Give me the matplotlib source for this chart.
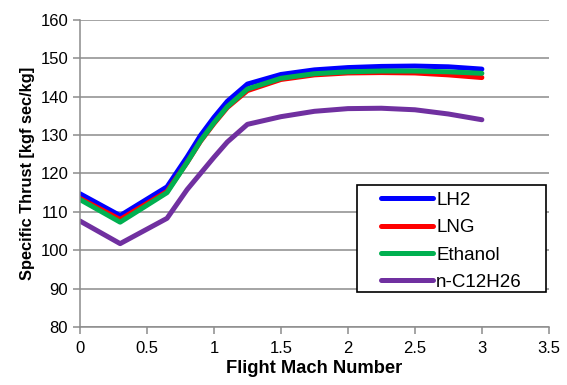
import matplotlib.pyplot as plt
from matplotlib.patches import Rectangle

plt.rcParams['font.family'] = ['Liberation Sans', 'DejaVu Sans']

# Flight Mach number and specific thrust per fuel
mach = [0, 0.3, 0.65, 0.8, 0.9, 1.0, 1.1, 1.25, 1.5, 1.75, 2.0, 2.25, 2.5, 2.75, 3.0]
lh2 = [114.7, 109.0, 116.5, 124.3, 129.9, 134.6, 138.8, 143.3, 145.8, 147.0, 147.6, 147.9, 148.0, 147.8, 147.2]
lng = [113.5, 108.0, 115.3, 122.9, 128.4, 133.0, 137.2, 141.6, 144.5, 145.7, 146.2, 146.3, 146.2, 145.7, 145.0]
ethanol = [113.2, 107.3, 115.0, 122.9, 128.5, 133.2, 137.4, 142.0, 144.8, 146.0, 146.5, 146.7, 146.7, 146.5, 146.1]
dodecane = [107.6, 101.7, 108.3, 115.8, 120.0, 124.2, 128.2, 132.8, 134.8, 136.2, 136.9, 137.0, 136.6, 135.5, 134.0]

labels = ["LH2", "LNG", "Ethanol", "n-C12H26"]
colors = ["#0000FF", "#FF0000", "#00B050", "#7030A0"]

fig = plt.figure(figsize=(5.67, 3.85), dpi=100)
ax = fig.add_axes([0.141, 0.151, 0.827, 0.797])

for ys, lab, col in zip([lh2, lng, ethanol, dodecane], labels, colors):
    ax.plot(mach, ys, color=col, lw=3.6, label=lab, solid_capstyle="round")

ax.set_xlim(0, 3.5)
ax.set_ylim(80, 160)
ax.set_xticks([0, 0.5, 1, 1.5, 2, 2.5, 3, 3.5])
ax.set_xticklabels(["0", "0.5", "1", "1.5", "2", "2.5", "3", "3.5"])
ax.set_yticks(range(80, 161, 10))

ax.yaxis.grid(True, color="#8c8c8c", lw=1.1)
ax.set_axisbelow(True)
for s in ["top", "right"]:
    ax.spines[s].set_visible(False)
for s in ["left", "bottom"]:
    ax.spines[s].set_color("#8c8c8c")
    ax.spines[s].set_linewidth(1.1)
ax.tick_params(direction="out", length=5, width=1.1, color="#8c8c8c", labelsize=12, labelcolor="black")
ax.tick_params(axis="x", pad=5)

ax.set_xlabel("Flight Mach Number", fontsize=13.2, fontweight="bold", labelpad=3)
ax.set_ylabel("Specific Thrust [kgf sec/kg]", fontsize=11.8, fontweight="bold", labelpad=4)

# legend box drawn separately (wide side padding like the original)
ax.add_patch(Rectangle((0.591, 0.115), 0.402, 0.3475, transform=ax.transAxes,
                       facecolor="white", edgecolor="black", lw=1.2, zorder=4))
leg = ax.legend(loc="center", bbox_to_anchor=(0.792, 0.279), frameon=False,
                fontsize=13.5, handlelength=2.8, handletextpad=0.15, labelspacing=0.55)
leg.set_zorder(5)

fig.savefig("out.png", dpi=100)
